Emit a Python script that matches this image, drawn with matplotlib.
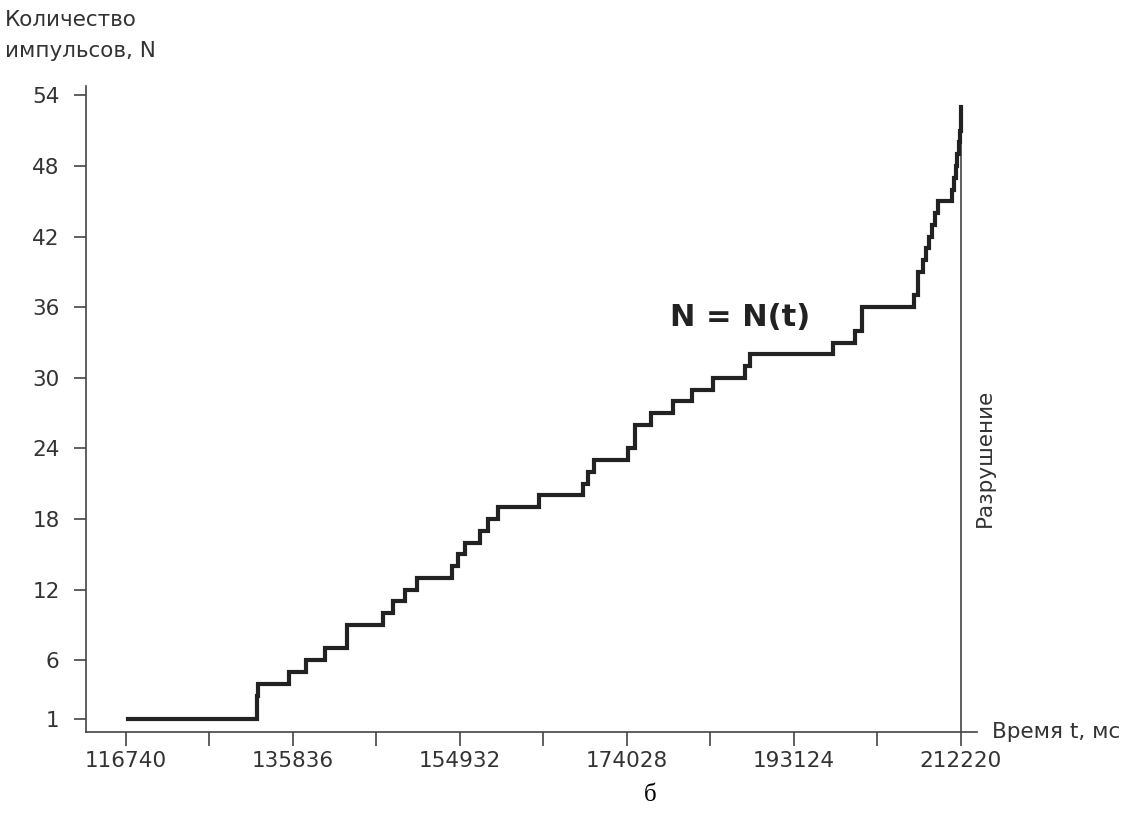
import matplotlib
matplotlib.use("Agg")
import matplotlib.pyplot as plt
from matplotlib.ticker import FixedLocator

# Step times (ms) where the pulse count changes, and the count after each step
times = [116969, 131720, 131834, 135379, 137323, 139496, 142012, 146128,
         147271, 148644, 150016, 154018, 154704, 155505, 157220, 158135,
         159278, 163967, 168998, 169570, 170256, 174144, 174944, 176774,
         179290, 181462, 183864, 187523, 188095, 197586, 200102, 200902,
         206849, 207306, 207878, 208221, 208564, 208907, 209250, 209593,
         211194, 211422, 211651, 211766, 211994, 212109, 212220]
counts = [1, 3, 4, 5, 6, 7, 9, 10,
          11, 12, 13, 14, 15, 16, 17, 18,
          19, 20, 21, 22, 23, 24, 26, 27,
          28, 29, 30, 31, 32, 33, 34, 36,
          37, 39, 40, 41, 42, 43, 44, 45,
          46, 47, 48, 49, 50, 51, 53]

t_fracture = 212220
x_ticks = [116740, 135836, 154932, 174028, 193124, 212220]
x_minor = [126288, 145384, 164480, 183576, 202672]
y_ticks = [1, 6, 12, 18, 24, 30, 36, 42, 48, 54]

plt.rcParams["font.family"] = ["DejaVu Sans"]

fig = plt.figure(figsize=(11.48, 8.27), dpi=100)
ax = fig.add_axes([0.0749, 0.1149, 0.7761, 0.7811])

ink = "#222222"
ax.plot([t_fracture, t_fracture], [-0.1, 53], color="#444444", lw=1.2, zorder=2)
ax.step(times, counts, where="post", color=ink, lw=3.0, zorder=3,
        solid_joinstyle="miter")

ax.set_xlim(112166, 214051)
ax.set_ylim(-0.1, 54.8)

for side in ("top", "right"):
    ax.spines[side].set_visible(False)
for side in ("left", "bottom"):
    ax.spines[side].set_color("#444444")
    ax.spines[side].set_linewidth(1.2)

ax.xaxis.set_major_locator(FixedLocator(x_ticks))
ax.xaxis.set_minor_locator(FixedLocator(x_minor))
ax.set_xticklabels([str(v) for v in x_ticks])
ax.yaxis.set_major_locator(FixedLocator(y_ticks))
ax.set_yticklabels([str(v) for v in y_ticks])

ax.tick_params(axis="x", which="both", direction="out", length=10, width=1.2,
               color="#444444", pad=4, labelsize=15.5, labelcolor="#333333")
ax.tick_params(axis="y", direction="out", length=9, width=1.2,
               color="#444444", pad=10, labelsize=15.5, labelcolor="#333333")

ax.text(186950, 35.1, "N = N(t)", fontsize=22, fontweight="bold",
        color=ink, ha="center", va="center")
ax.text(214967, 23.2, "Разрушение", rotation=90, fontsize=15.5,
        color="#333333", ha="center", va="center", clip_on=False)
ax.text(215767, -0.1, "Время t, мс", fontsize=15.5, color="#333333",
        ha="left", va="center", clip_on=False)

fig.text(0.004, 0.988, "Количество\nимпульсов, N", fontsize=15.5,
         color="#333333", ha="left", va="top", linespacing=1.7)
fig.text(0.566, 0.039, "б", fontsize=18, family="Liberation Serif",
         color="black", ha="center", va="center")

fig.savefig("out.png", dpi=100)
